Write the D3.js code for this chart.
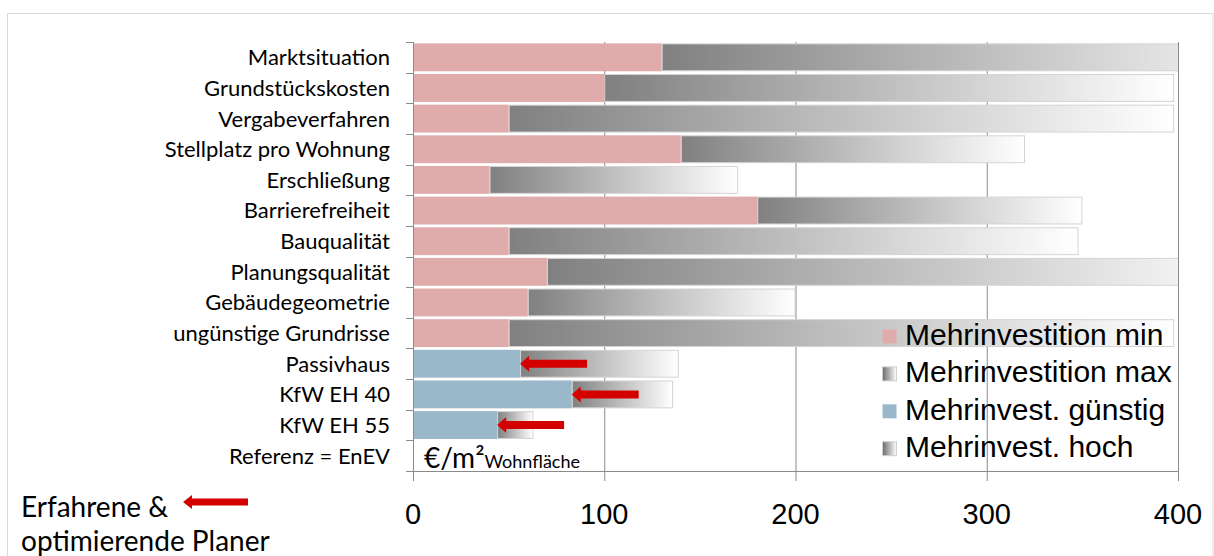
<!DOCTYPE html>
<html>
<head>
<meta charset="utf-8">
<script src="https://cdn.jsdelivr.net/npm/d3@7"></script>
<style>
  html, body { margin: 0; padding: 0; background: #fff; }
  svg { display: block; }
</style>
</head>
<body>
<svg id="chart" width="1214" height="556"></svg>
<script>
// ---- data ----
const categories = ["Marktsituation", "Grundstückskosten", "Vergabeverfahren", "Stellplatz pro Wohnung",
  "Erschließung", "Barrierefreiheit", "Bauqualität", "Planungsqualität", "Gebäudegeometrie",
  "ungünstige Grundrisse", "Passivhaus", "KfW EH 40", "KfW EH 55", "Referenz = EnEV"];
const minValues = [130, 100, 50, 140, 40, 180, 50, 70, 60, 50, 56, 83, 44, 0];
const maxValues = [470, 398, 398, 320, 170, 350, 348, 440, 200, 398, 139, 136, 63, 0];
const seriesGroup = ["std","std","std","std","std","std","std","std","std","std","energy","energy","energy","energy"];
const arrowCategories = ["Passivhaus", "KfW EH 40", "KfW EH 55"];
const arrowFrom = [91, 118, 79];
const arrowTo = [56, 83, 44];
const xTicks = [0, 100, 200, 300, 400];
const legendLabels = ["Mehrinvestition min", "Mehrinvestition max", "Mehrinvest. günstig", "Mehrinvest. hoch"];

// ---- styles ----
const PINK = "#dfabab", BLUE = "#99b8ca", RED = "#d40000", GRID = "#8a8a8a";
const calibriLike = "Lato, 'Open Sans', sans-serif";
const arialLike = "'Liberation Sans', Arial, sans-serif";

const svg = d3.select("#chart");
const W = 1214, H = 556;

// outer frame
svg.append("rect").attr("x", 7.5).attr("y", 13.5).attr("width", W - 8.5).attr("height", H + 20)
  .attr("fill", "none").attr("stroke", "#d9d9d9");

const x = d3.scaleLinear().domain([0, 400]).range([413, 1178]);
const y = d3.scaleBand().domain(categories).range([42, 471]).paddingInner(0.09).paddingOuter(0.045);
const bandStep = y.step();
const rows = categories.map((c, i) => ({ c, min: minValues[i], max: maxValues[i], g: seriesGroup[i] }));

const defs = svg.append("defs");
const grad = defs.append("linearGradient").attr("id", "greyGrad")
  .attr("x1", "0%").attr("x2", "100%").attr("y1", "0%").attr("y2", "0%");
grad.append("stop").attr("offset", "0%").attr("stop-color", "#808080");
grad.append("stop").attr("offset", "100%").attr("stop-color", "#ffffff");
const gradL = defs.append("linearGradient").attr("id", "greyGradLegend")
  .attr("x1", "0%").attr("x2", "100%").attr("y1", "0%").attr("y2", "0%");
gradL.append("stop").attr("offset", "0%").attr("stop-color", "#6a6a6a");
gradL.append("stop").attr("offset", "100%").attr("stop-color", "#ffffff");
defs.append("clipPath").attr("id", "plotClip").append("rect")
  .attr("x", x(0)).attr("y", 30).attr("width", x(400) - x(0)).attr("height", 460);

// gridlines (vertical) + x ticks
const gGrid = svg.append("g");
gGrid.selectAll("line.grid").data(xTicks.filter(d => d > 0)).join("line")
  .attr("x1", d => x(d) + 0.5).attr("x2", d => x(d) + 0.5)
  .attr("y1", 42).attr("y2", 481)
  .attr("stroke", GRID).attr("stroke-width", 1);

// bars
const gBars = svg.append("g").attr("clip-path", "url(#plotClip)");
gBars.selectAll("rect.maxbar").data(rows.filter(r => r.max > r.min)).join("rect")
  .attr("x", r => x(r.min) + 0.5).attr("y", r => y(r.c) + 0.5)
  .attr("width", r => x(r.max) - x(r.min) - 1).attr("height", y.bandwidth() - 1)
  .attr("fill", "url(#greyGrad)").attr("stroke", "#d4d4d4").attr("stroke-width", 1);
gBars.selectAll("rect.minbar").data(rows.filter(r => r.min > 0)).join("rect")
  .attr("x", x(0)).attr("y", r => y(r.c))
  .attr("width", r => x(r.min) - x(0)).attr("height", y.bandwidth())
  .attr("fill", r => r.g === "std" ? PINK : BLUE);

// arrows
function arrowPath(x0, x1, yc, shaft, headH, headL) {
  // x0 = tail, x1 = tip (tip to the left)
  return `M${x1},${yc} L${x1 + headL},${yc - headH} L${x1 + headL},${yc - shaft} L${x0},${yc - shaft}` +
         ` L${x0},${yc + shaft} L${x1 + headL},${yc + shaft} L${x1 + headL},${yc + headH} Z`;
}
svg.append("g").selectAll("path").data(arrowCategories).join("path")
  .attr("d", (c, i) => arrowPath(x(arrowFrom[i]), x(arrowTo[i]), y(c) + y.bandwidth() / 2, 4, 8, 9))
  .attr("fill", RED);

// axes lines
const gAxis = svg.append("g");
gAxis.append("line").attr("x1", x(0) + 0.5).attr("x2", x(0) + 0.5).attr("y1", 42).attr("y2", 481)
  .attr("stroke", GRID);
gAxis.append("line").attr("x1", 406).attr("x2", x(400) + 1).attr("y1", 471.5).attr("y2", 471.5)
  .attr("stroke", GRID);
// y tick marks at band boundaries
const boundaries = categories.map(c => y(c) - (bandStep - y.bandwidth()) / 2).concat([471]);
gAxis.selectAll("line.yt").data(boundaries).join("line")
  .attr("x1", 406).attr("x2", x(0)).attr("y1", d => Math.round(d) + 0.5).attr("y2", d => Math.round(d) + 0.5)
  .attr("stroke", GRID);

// x tick labels
svg.append("g").selectAll("text").data(xTicks).join("text")
  .attr("x", d => x(d)).attr("y", 524).attr("text-anchor", "middle")
  .attr("font-family", arialLike).attr("font-size", 29).attr("fill", "#000")
  .text(d => d);

// category labels
svg.append("g").selectAll("text").data(categories).join("text")
  .attr("x", 390).attr("y", c => y(c) + y.bandwidth() / 2).attr("dy", "0.36em")
  .attr("text-anchor", "end").attr("font-family", calibriLike).attr("font-size", 22)
  .attr("fill", "#000").text(c => c);

// unit label
const unit = svg.append("text").attr("x", 424).attr("y", 468)
  .attr("font-family", calibriLike).attr("fill", "#000");
unit.append("tspan").attr("font-size", 28).text("€/m²");
unit.append("tspan").attr("font-size", 18).text("Wohnfläche");

// legend
const legendSw = [
  { fill: PINK, stroke: "none" },
  { fill: "url(#greyGradLegend)", stroke: "#d0d0d0" },
  { fill: BLUE, stroke: "none" },
  { fill: "url(#greyGradLegend)", stroke: "#d0d0d0" }
];
const lg = svg.append("g");
legendLabels.forEach((t, i) => {
  const base = 345 + i * 37.4;
  lg.append("rect").attr("x", 882.5).attr("y", base - 15.5).attr("width", 14).attr("height", 14)
    .attr("fill", legendSw[i].fill).attr("stroke", legendSw[i].stroke);
  lg.append("text").attr("x", 905).attr("y", base)
    .attr("font-family", arialLike).attr("font-size", 30).attr("fill", "#000").text(t);
});

// bottom-left note
const note = svg.append("g").attr("font-family", calibriLike).attr("font-size", 28).attr("fill", "#000");
note.append("text").attr("x", 21).attr("y", 517).text("Erfahrene &");
note.append("text").attr("x", 21).attr("y", 551).text("optimierende Planer");
svg.append("path").attr("d", arrowPath(248, 183, 502, 3.5, 7, 9)).attr("fill", RED);
</script>
</body>
</html>
